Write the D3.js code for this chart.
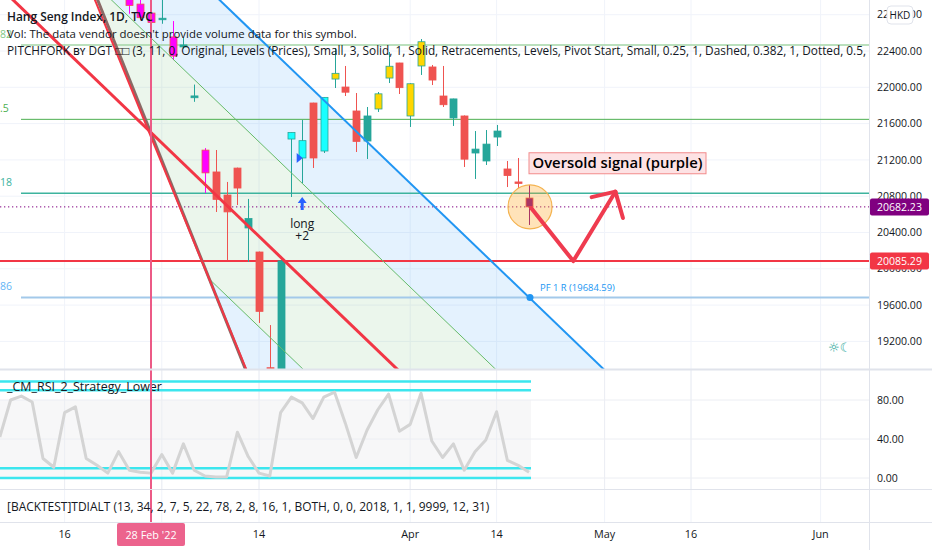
<!DOCTYPE html>
<html><head><meta charset="utf-8">
<script src="https://cdn.jsdelivr.net/npm/d3@7"></script>
<style>
html,body{margin:0;padding:0;background:#fff;overflow:hidden;}
svg{display:block;}
</style></head><body>
<svg id="c" width="932" height="550"></svg>
<script>
// ---------------- DATA ----------------
const dates = ["2022-02-24","2022-02-25","2022-02-28","2022-03-01","2022-03-02","2022-03-03","2022-03-04","2022-03-07","2022-03-08","2022-03-09","2022-03-10","2022-03-11","2022-03-14","2022-03-15","2022-03-16","2022-03-17","2022-03-18","2022-03-21","2022-03-22","2022-03-23","2022-03-24","2022-03-25","2022-03-28","2022-03-29","2022-03-30","2022-03-31","2022-04-01","2022-04-04","2022-04-06","2022-04-07","2022-04-08","2022-04-11","2022-04-12","2022-04-13","2022-04-14","2022-04-19","2022-04-20","2022-04-21"];
const firstBarIndex = -2; // 28 Feb '22 = bar 0
const opens  = [23200,22917,22818,22745,22555,22445,21885,21308,21067,20813,21110,20450,20185,18910,18650,21430,21221,21827,21298,22091,22003,21739,21408,21761,22102,22268,21684,22235,22224,21904,21662,21684,21276,21188,21452,21100,20957,20780];
const highs  = [23250,23010,22900,22990,22730,22550,22030,21330,21309,20957,21115,20770,20190,19380,20100,21501,21640,21830,21890,22433,22235,21937,21783,21948,22389,22270,22045,22532,22246,22235,21875,21690,21518,21529,21585,21188,21221,20923];
const lows   = [22810,22740,22680,22700,22300,22420,21840,20835,20626,20097,20703,20075,19403,18235,18500,20791,20945,21111,21276,21992,21904,21287,21210,21728,22047,21926,21563,22136,22025,21783,21574,21122,20990,21144,21353,20901,20890,20483];
const closes = [22902,22767,22713,22761,22344,22467,21905,21057,20765,20627,20890,20554,19531,18415,20087,21501,21412,21221,21889,22154,21946,21404,21684,21928,22232,21996,22039,22502,22080,21808,21872,21208,21319,21374,21518,21027,20944,20682.23];
// strategy bar signal: M=magenta, T=teal, R=red, C=cyan, Y=yellow, P=purple
const signals = ["M","M","M","T","M","T","T","M","R","R","R","T","R","R","T","C","C","R","C","Y","R","R","T","Y","Y","R","Y","Y","R","R","T","R","T","T","T","R","R","P"];

const rsiStartIndex = -14;
const rsiValues = [42,80,84,78,20,11,67,73,20,13,5,27,8,6,5,24,5,35,8,2,1,1,47,22,5,2,67,83,77,61,83,88,56,21,49,70,86,48,55,87,38,21,35,8,27,39,68,18,13,6];
const rsiBands = [99,90,10,0];

const priceTicks = [22800,22400,22000,21600,21200,20800,20400,20000,19600,19200];
const rsiTicks = [80,40,0];
const timeTickIndex = [-8,1,10,24,32,42,50,62];
const timeTickLabels = ["16","Mar","14","Apr","14","May","16","Jun"];
const markerBar = 0;
const markerLabel = "28 Feb '22";

const lastPrice = 20682.23;
const supportPrice = 20085.29;
const fibLevels = [22466,21647,20832,19684.59];
const fibLabels = ["82",".5","18","86"];   // visible tails of 0.382 / 0.5 / 0.618 / 0.786

// pitchfork (bar index, price) geometry
const pfAnchor = {i:35, p:19684.59};
const pfSlope = -114.4;            // price per bar
const pfOffsets = {upper:0, middle:-1145, redMid:-2187, lower:-3184};
const steepGrey = {i:-4.94, p:22962, slope:-297.3};
const steepRed  = {i:-5.19, p:22962, slope:-290.6};

const arrowPts = [[35.2,20670],[39.1,20085],[43.0,20850]];
const arrowHead = [[40.8,20790],[43.0,20850],[43.7,20560]];
const noteText = "Oversold signal (purple)";
const noteAnchor = {i:35, p:21163};
const longBar = 14;

// ---------------- LAYOUT ----------------
const W=932,H=550,PR=869,MB=369,RT=370,RB=489,BB=522;
const FONT='"Open Sans","Noto Sans",sans-serif';
const TXT='#131722';

const x = d3.scaleLinear().domain([0,10]).range([151,259]);
const y = d3.scaleLinear().domain([19200,22400]).range([341.4,51]);
const yr = d3.scaleLinear().domain([0,80]).range([478,400]);

const svg = d3.select('#c').attr('font-family',FONT);
const defs = svg.append('defs');
defs.append('clipPath').attr('id','cm').append('rect').attr('x',0).attr('y',0).attr('width',PR).attr('height',MB);
defs.append('clipPath').attr('id','cr').append('rect').attr('x',0).attr('y',RT).attr('width',PR).attr('height',RB-RT);

svg.append('rect').attr('width',W).attr('height',H).attr('fill','#fff');

function fit(sel,target){
  const len=sel.node().getComputedTextLength();
  if(len>0){const fs=parseFloat(sel.attr('font-size'));sel.attr('font-size',(fs*target/len).toFixed(2));}
  return sel;
}
function measureSize(str,size,weight,target){
  const t=svg.append('text').attr('font-size',size).attr('font-weight',weight).text(str);
  const len=t.node().getComputedTextLength(); t.remove();
  return size*target/len;
}

// ---------------- GRID ----------------
const grid = svg.append('g').attr('stroke','#f0f3fa').attr('stroke-width',1);
timeTickIndex.forEach(i=>grid.append('line').attr('x1',x(i)).attr('x2',x(i)).attr('y1',0).attr('y2',BB));
priceTicks.forEach(p=>grid.append('line').attr('x1',0).attr('x2',PR).attr('y1',y(p)).attr('y2',y(p)));

// ---------------- MAIN PANE ----------------
const main = svg.append('g').attr('clip-path','url(#cm)');
const pf = (off)=> (i)=> pfAnchor.p + (i-pfAnchor.i)*pfSlope + off;
const st = (s)=> (i)=> s.p + (i-s.i)*s.slope;
const upper=pf(pfOffsets.upper), middle=pf(pfOffsets.middle), lower=pf(pfOffsets.lower), redMid=pf(pfOffsets.redMid);
const grey=st(steepGrey), redSteep=st(steepRed);
const jI = (pfAnchor.p + pfOffsets.lower - pfAnchor.i*pfSlope - (steepGrey.p - steepGrey.i*steepGrey.slope)) / (steepGrey.slope - pfSlope);

const I0=-20, I1=70;
const pt = (f,i)=>[x(i),y(f(i))];
main.append('path').attr('fill','rgba(33,150,243,0.12)')
  .attr('d', d3.line()([pt(upper,I0),pt(upper,I1),pt(middle,I1),pt(middle,I0)])+'Z');
main.append('path').attr('fill','rgba(76,175,80,0.11)')
  .attr('d', d3.line()([pt(middle,I0),pt(middle,I1),pt(lower,I1),pt(lower,jI),pt(grey,jI),pt(grey,-9)])+'Z');
main.append('path').attr('fill','rgba(33,150,243,0.12)')
  .attr('d', d3.line()([pt(grey,jI),pt(grey,20),pt(lower,20),pt(lower,jI)])+'Z');

// fib / level lines
const levelColors=['#a5d6a7','#4caf50','#3db39e','#a3c9ea'];
const labelColors=['#81c784','#4caf50','#3db39e','#64b5f6'];
const levelWidths=[1.5,1,1.5,2];
fibLevels.forEach((p,k)=>{
  main.append('line').attr('x1',21).attr('x2',PR).attr('y1',y(p)).attr('y2',y(p))
    .attr('stroke',levelColors[k]).attr('stroke-width',levelWidths[k]);
  main.append('text').attr('x',0).attr('y',y(p)-7)
    .attr('font-size',10.5).attr('fill',labelColors[k]).text(fibLabels[k]);
});
main.append('line').attr('x1',0).attr('x2',PR).attr('y1',y(supportPrice)).attr('y2',y(supportPrice))
  .attr('stroke','#f23645').attr('stroke-width',2);
main.append('line').attr('x1',0).attr('x2',PR).attr('y1',y(lastPrice)).attr('y2',y(lastPrice))
  .attr('stroke','#800080').attr('stroke-width',1).attr('stroke-dasharray','1.3,2.7');

// candles
const bodyCol={M:'#ff00ff',T:'#26a69a',R:'#ef5350',C:'#18ffff',Y:'#ffd600',P:'#800080'};
const edgeCol={M:'#ef5350',T:'#26a69a',R:'#ef5350',C:'#26a69a',Y:'#26a69a',P:'#ef5350'};
const bars = dates.map((d,k)=>({i:firstBarIndex+k,o:opens[k],h:highs[k],l:lows[k],c:closes[k],s:signals[k]}));
const cg = main.append('g');
bars.forEach(b=>{
  const cx=Math.round(x(b.i))+0.5;
  cg.append('line').attr('x1',cx).attr('x2',cx).attr('y1',y(b.h)).attr('y2',y(b.l))
    .attr('stroke',b.s==='M'||b.s==='P'?bodyCol[b.s]:edgeCol[b.s]).attr('stroke-width',1);
  const top=Math.min(y(b.o),y(b.c)), hgt=Math.max(1.5,Math.abs(y(b.o)-y(b.c)));
  cg.append('rect').attr('x',cx-3.5).attr('y',top).attr('width',7).attr('height',hgt)
    .attr('fill',bodyCol[b.s]).attr('stroke',edgeCol[b.s]).attr('stroke-width',0.8);
});

// pitchfork / trend lines
const seg=(f,a,b,col,w)=>main.append('line').attr('x1',x(a)).attr('y1',y(f(a))).attr('x2',x(b)).attr('y2',y(f(b)))
  .attr('stroke',col).attr('stroke-width',w);
seg(middle,I0,I1,'#66bb6a',1);
seg(lower,jI,I1,'#66bb6a',1);
seg(upper,I0,I1,'#2196f3',2);
seg(grey,-9,20,'#8a6a66',3);
seg(redSteep,-9,20,'#f23645',2);
seg(redMid,I0,I1,'#f23645',3);

// vertical date marker
svg.append('line').attr('x1',x(markerBar)).attr('x2',x(markerBar)).attr('y1',0).attr('y2',BB)
  .attr('stroke','#ec5a86').attr('stroke-width',2);

// long marker
const lb = bars.find(b=>b.i===longBar);
const lx = x(longBar), ly = y(lb.l)+14;
main.append('path').attr('fill','#2962ff')
  .attr('d',`M${lx},${ly} L${lx+4.5},${ly+6} L${lx+1.5},${ly+6} L${lx+1.5},${ly+13} L${lx-1.5},${ly+13} L${lx-1.5},${ly+6} L${lx-4.5},${ly+6} Z`);
main.append('text').attr('x',lx).attr('y',ly+31).attr('text-anchor','middle').attr('font-size',12).attr('fill',TXT).text('long');
main.append('text').attr('x',lx).attr('y',ly+43).attr('text-anchor','middle').attr('font-size',12).attr('fill',TXT).text('+2');
const ty=y(lb.o);
main.append('path').attr('fill','#2962ff').attr('d',`M${lx-5.5},${ty-5} L${lx+0.5},${ty} L${lx-5.5},${ty+5} Z`);

// PF 1 R
main.append('circle').attr('cx',x(pfAnchor.i)+1).attr('cy',y(pfAnchor.p)).attr('r',3.5).attr('fill','#2196f3');
fit(main.append('text').attr('x',x(pfAnchor.i)+11).attr('y',y(pfAnchor.p)-6).attr('font-size',11)
  .attr('fill','#2196f3').text('PF 1 R (19684.59)'),75);

// oversold annotation
main.append('circle').attr('cx',x(35)+1).attr('cy',y(lastPrice)).attr('r',22)
  .attr('fill','rgba(255,167,38,0.32)').attr('stroke','#f4b350').attr('stroke-width',1.2);
const toPx=a=>[x(a[0]),y(a[1])];
main.append('path').attr('d',d3.line()(arrowPts.map(toPx))).attr('fill','none')
  .attr('stroke','#ef3b4f').attr('stroke-width',4).attr('stroke-linecap','round').attr('stroke-linejoin','round');
main.append('path').attr('d',d3.line()(arrowHead.map(toPx))).attr('fill','none')
  .attr('stroke','#ef3b4f').attr('stroke-width',4).attr('stroke-linecap','round').attr('stroke-linejoin','round');
const nx=x(noteAnchor.i), ny=y(noteAnchor.p);
main.append('rect').attr('x',nx).attr('y',ny-10.5).attr('width',177).attr('height',21)
  .attr('fill','#fde2e4').attr('stroke','#f28b8b').attr('stroke-width',1);
fit(main.append('text').attr('x',nx+88.5).attr('y',ny+5).attr('text-anchor','middle')
  .attr('font-size',15).attr('font-weight',600).attr('fill','#000').text(noteText),170);

// market status icon
main.append('text').attr('x',828).attr('y',352).attr('font-size',13).attr('fill','#26a69a')
  .attr('font-family','"DejaVu Sans",sans-serif').text('☼☾');

// header legends
const hs = measureSize("Vol: The data vendor doesn't provide volume data for this symbol.",13,400,350);
const head = svg.append('g').attr('clip-path','url(#cm)').attr('fill',TXT);
fit(head.append('text').attr('x',7).attr('y',21).attr('font-size',13).attr('font-weight',600).text('Hang Seng Index, 1D, TVC'),146);
head.append('text').attr('x',7).attr('y',38).attr('font-size',hs).text("Vol: The data vendor doesn't provide volume data for this symbol.");
const pfPrefix="PITCHFORK ʙʏ DGT □□ (3, 11, 0, Original, Levels (Prices), Small, 3, Solid, 1, Solid, Retracements, Levels, Pivot Start, Small, 0.25, 1, Dashed, 0.382, 1, Dotted, 0.5, ";
const ps = measureSize(pfPrefix,13,400,860);
head.append('text').attr('x',7).attr('y',55).attr('font-size',ps).text(pfPrefix+"1");

// ---------------- RSI PANE ----------------
const rsiG = svg.append('g').attr('clip-path','url(#cr)');
const rsiEnd = x(rsiStartIndex+rsiValues.length-1)+2;
rsiG.append('rect').attr('x',0).attr('y',yr(80)).attr('width',rsiEnd).attr('height',yr(1)-yr(80)).attr('fill','#f7f7f8');
rsiTicks.forEach(v=>rsiG.append('line').attr('x1',0).attr('x2',PR).attr('y1',yr(v)).attr('y2',yr(v)).attr('stroke','#eceef3'));
timeTickIndex.forEach(i=>rsiG.append('line').attr('x1',x(i)).attr('x2',x(i)).attr('y1',RT).attr('y2',RB).attr('stroke','#eceef3'));
rsiBands.forEach(v=>rsiG.append('line').attr('x1',0).attr('x2',rsiEnd).attr('y1',yr(v)).attr('y2',yr(v))
  .attr('stroke','#3ce6ee').attr('stroke-width',2.6));
rsiG.append('path').datum(rsiValues).attr('fill','none').attr('stroke','#d4d4d4').attr('stroke-width',3)
  .attr('stroke-linejoin','round')
  .attr('d',d3.line().x((v,k)=>x(rsiStartIndex+k)).y(v=>yr(v)));
fit(svg.append('text').attr('x',7).attr('y',391).attr('font-size',12).attr('fill',TXT).text('_CM_RSI_2_Strategy_Lower'),155);
svg.append('line').attr('x1',x(markerBar)).attr('x2',x(markerBar)).attr('y1',RT).attr('y2',BB).attr('stroke','#ec5a86').attr('stroke-width',2);

// backtest pane
fit(svg.append('text').attr('x',7).attr('y',511).attr('font-size',hs).attr('fill',TXT)
  .text('[BACKTEST]TDIALT (13, 34, 2, 7, 5, 22, 78, 2, 8, 16, 1, BOTH, 0, 0, 2018, 1, 1, 9999, 12, 31)'),482);

// ---------------- SEPARATORS ----------------
const sep = svg.append('g').attr('stroke','#e0e3eb');
sep.append('line').attr('x1',0).attr('x2',W).attr('y1',369.5).attr('y2',369.5).attr('stroke-width',2);
sep.append('line').attr('x1',0).attr('x2',W).attr('y1',489.5).attr('y2',489.5);
sep.append('line').attr('x1',0).attr('x2',W).attr('y1',522.5).attr('y2',522.5);
sep.append('line').attr('x1',PR+0.5).attr('x2',PR+0.5).attr('y1',0).attr('y2',H);

// ---------------- AXES ----------------
const as = measureSize('22400.00',12,400,45);
const ax = svg.append('g').attr('font-size',as).attr('fill',TXT);
priceTicks.forEach(p=>ax.append('text').attr('x',877).attr('y',y(p)).attr('dy','0.35em').text(p.toFixed(2)));
rsiTicks.forEach(v=>ax.append('text').attr('x',877).attr('y',yr(v)).attr('dy','0.35em').text(v.toFixed(2)));
// HKD badge
svg.append('rect').attr('x',887).attr('y',6).attr('width',26).attr('height',18).attr('rx',4)
  .attr('fill','#fff').attr('stroke','#e0e3eb');
svg.append('text').attr('x',900).attr('y',15).attr('dy','0.35em').attr('text-anchor','middle')
  .attr('font-size',as*0.95).attr('fill',TXT).text('HKD');
// price boxes
[[lastPrice,'#800080'],[supportPrice,'#f23645']].forEach(([p,c])=>{
  svg.append('rect').attr('x',PR+1).attr('y',y(p)-8.5).attr('width',59).attr('height',17).attr('rx',2).attr('fill',c);
  svg.append('text').attr('x',877).attr('y',y(p)).attr('dy','0.35em').attr('font-size',as).attr('fill','#fff').text(p.toFixed(2));
});
// time axis (label under the date-marker badge is hidden, as in TradingView)
const tx = svg.append('g').attr('font-size',as*1.03).attr('fill',TXT).attr('text-anchor','middle');
timeTickIndex.forEach((i,k)=>{ if(Math.abs(x(i)-x(markerBar))>40) tx.append('text').attr('x',x(i)).attr('y',538).text(timeTickLabels[k]); });
svg.append('rect').attr('x',x(markerBar)-34).attr('y',523).attr('width',68).attr('height',23).attr('rx',2).attr('fill','#ec638d');
svg.append('text').attr('x',x(markerBar)).attr('y',538.5).attr('text-anchor','middle').attr('font-size',as*1.03)
  .attr('fill','#fff').text(markerLabel);
</script>
</body></html>
